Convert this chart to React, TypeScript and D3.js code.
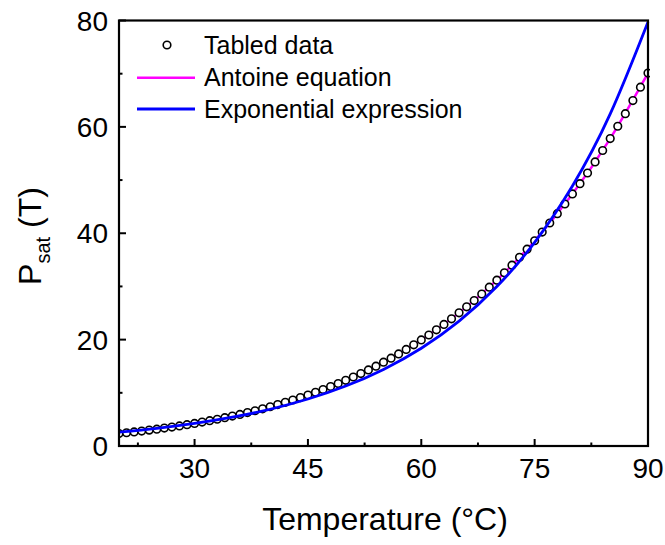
import React from "react";
import * as d3 from "d3";

const tabledT = [20,21,22,23,24,25,26,27,28,29,30,31,32,33,34,35,36,37,38,39,40,41,42,43,44,45,46,47,48,49,50,51,52,53,54,55,56,57,58,59,60,61,62,63,64,65,66,67,68,69,70,71,72,73,74,75,76,77,78,79,80,81,82,83,84,85,86,87,88,89,90];
const tabledP = [2.339,2.487,2.645,2.810,2.985,3.169,3.363,3.567,3.782,4.008,4.246,4.495,4.758,5.034,5.323,5.627,5.945,6.280,6.630,6.997,7.381,7.784,8.205,8.646,9.108,9.593,10.10,10.62,11.17,11.74,12.35,12.97,13.62,14.30,15.01,15.76,16.52,17.32,18.16,19.03,19.94,20.87,21.85,22.86,23.92,25.03,26.16,27.35,28.58,29.86,31.18,32.56,33.99,35.47,37.00,38.59,40.23,41.93,43.68,45.50,47.39,49.33,51.33,53.41,55.56,57.80,60.12,62.49,64.95,67.47,70.11];

const fitT = [20,25,30,35,40,45,50,55,60,65,70,75,80,85,90];
const antoineP = [2.34,3.17,4.25,5.63,7.38,9.59,12.35,15.76,19.94,25.03,31.18,38.59,47.39,57.80,70.11];
const exponentialP = [2.60,3.32,4.24,5.41,6.91,8.83,11.27,14.40,18.38,23.48,29.98,38.29,48.89,62.43,79.72];

const xTicks = [30,45,60,75,90];
const xMinor = [22.5,37.5,52.5,67.5,82.5];
const yTicks = [0,20,40,60,80];
const yMinor = [10,30,50,70];

const legendLabels = ["Tabled data","Antoine equation","Exponential expression"];

const W = 665, H = 545;
const L = 119, R = 648, T = 20.5, B = 446;
const FONT = "'Liberation Sans', Arial, Helvetica, sans-serif";

export default function App() {
  const x = d3.scaleLinear().domain([20, 90]).range([L, R]);
  const y = d3.scaleLinear().domain([0, 80]).range([B, T]);
  const line = d3.line<[number, number]>()
    .x(d => x(d[0])).y(d => y(d[1])).curve(d3.curveNatural);
  const antoine = line(fitT.map((t, i) => [t, antoineP[i]]))!;
  const expo = line(fitT.map((t, i) => [t, exponentialP[i]]))!;

  return (
    <svg width={W} height={H} style={{ position: "absolute", left: 0, top: 0, background: "#fff" }} fontFamily={FONT}>
      <defs>
        <clipPath id="plot"><rect x={L} y={T - 2} width={R - L + 2} height={B - T + 2} /></clipPath>
      </defs>
      <g clipPath="url(#plot)">
        <path d={antoine} fill="none" stroke="#ff00ff" strokeWidth={2.5} />
        {tabledT.map((t, i) => (
          <circle key={i} cx={x(t)} cy={y(tabledP[i])} r={3.8} fill="#fff" stroke="#000" strokeWidth={1.6} />
        ))}
        <path d={expo} fill="none" stroke="#0000ff" strokeWidth={2.8} />
      </g>
      {/* frame */}
      <rect x={L} y={T} width={R - L} height={B - T} fill="none" stroke="#000" strokeWidth={2.2} />
      {/* x ticks */}
      {xTicks.map(t => (
        <g key={"xt" + t}>
          <line x1={x(t)} x2={x(t)} y1={B} y2={B - 7} stroke="#000" strokeWidth={2} />
          <text x={x(t)} y={478} textAnchor="middle" fontSize={28}>{t}</text>
        </g>
      ))}
      {xMinor.map(t => (
        <line key={"xm" + t} x1={x(t)} x2={x(t)} y1={B} y2={B - 3.5} stroke="#000" strokeWidth={2} />
      ))}
      {yTicks.map(v => (
        <g key={"yt" + v}>
          <line x1={L} x2={L + 7} y1={y(v)} y2={y(v)} stroke="#000" strokeWidth={2} />
          <text x={108} y={y(v) + 10} textAnchor="end" fontSize={28}>{v}</text>
        </g>
      ))}
      {yMinor.map(v => (
        <line key={"ym" + v} x1={L} x2={L + 3.5} y1={y(v)} y2={y(v)} stroke="#000" strokeWidth={2} />
      ))}
      {/* axis titles */}
      <text x={385} y={530} textAnchor="middle" fontSize={32}>Temperature (°C)</text>
      <text transform="translate(41,236) rotate(-90)" textAnchor="middle" fontSize={32}>
        P<tspan fontSize={20} dy={9}>sat</tspan><tspan dy={-9}> (T)</tspan>
      </text>
      {/* legend */}
      <circle cx={167} cy={45} r={3.8} fill="#fff" stroke="#000" strokeWidth={1.6} />
      <line x1={137} x2={195} y1={77.7} y2={77.7} stroke="#ff00ff" strokeWidth={2.5} />
      <line x1={137} x2={195} y1={109} y2={109} stroke="#0000ff" strokeWidth={2.8} />
      {legendLabels.map((s, i) => (
        <text key={s} x={204} y={54 + i * 32} fontSize={25}>{s}</text>
      ))}
    </svg>
  );
}
